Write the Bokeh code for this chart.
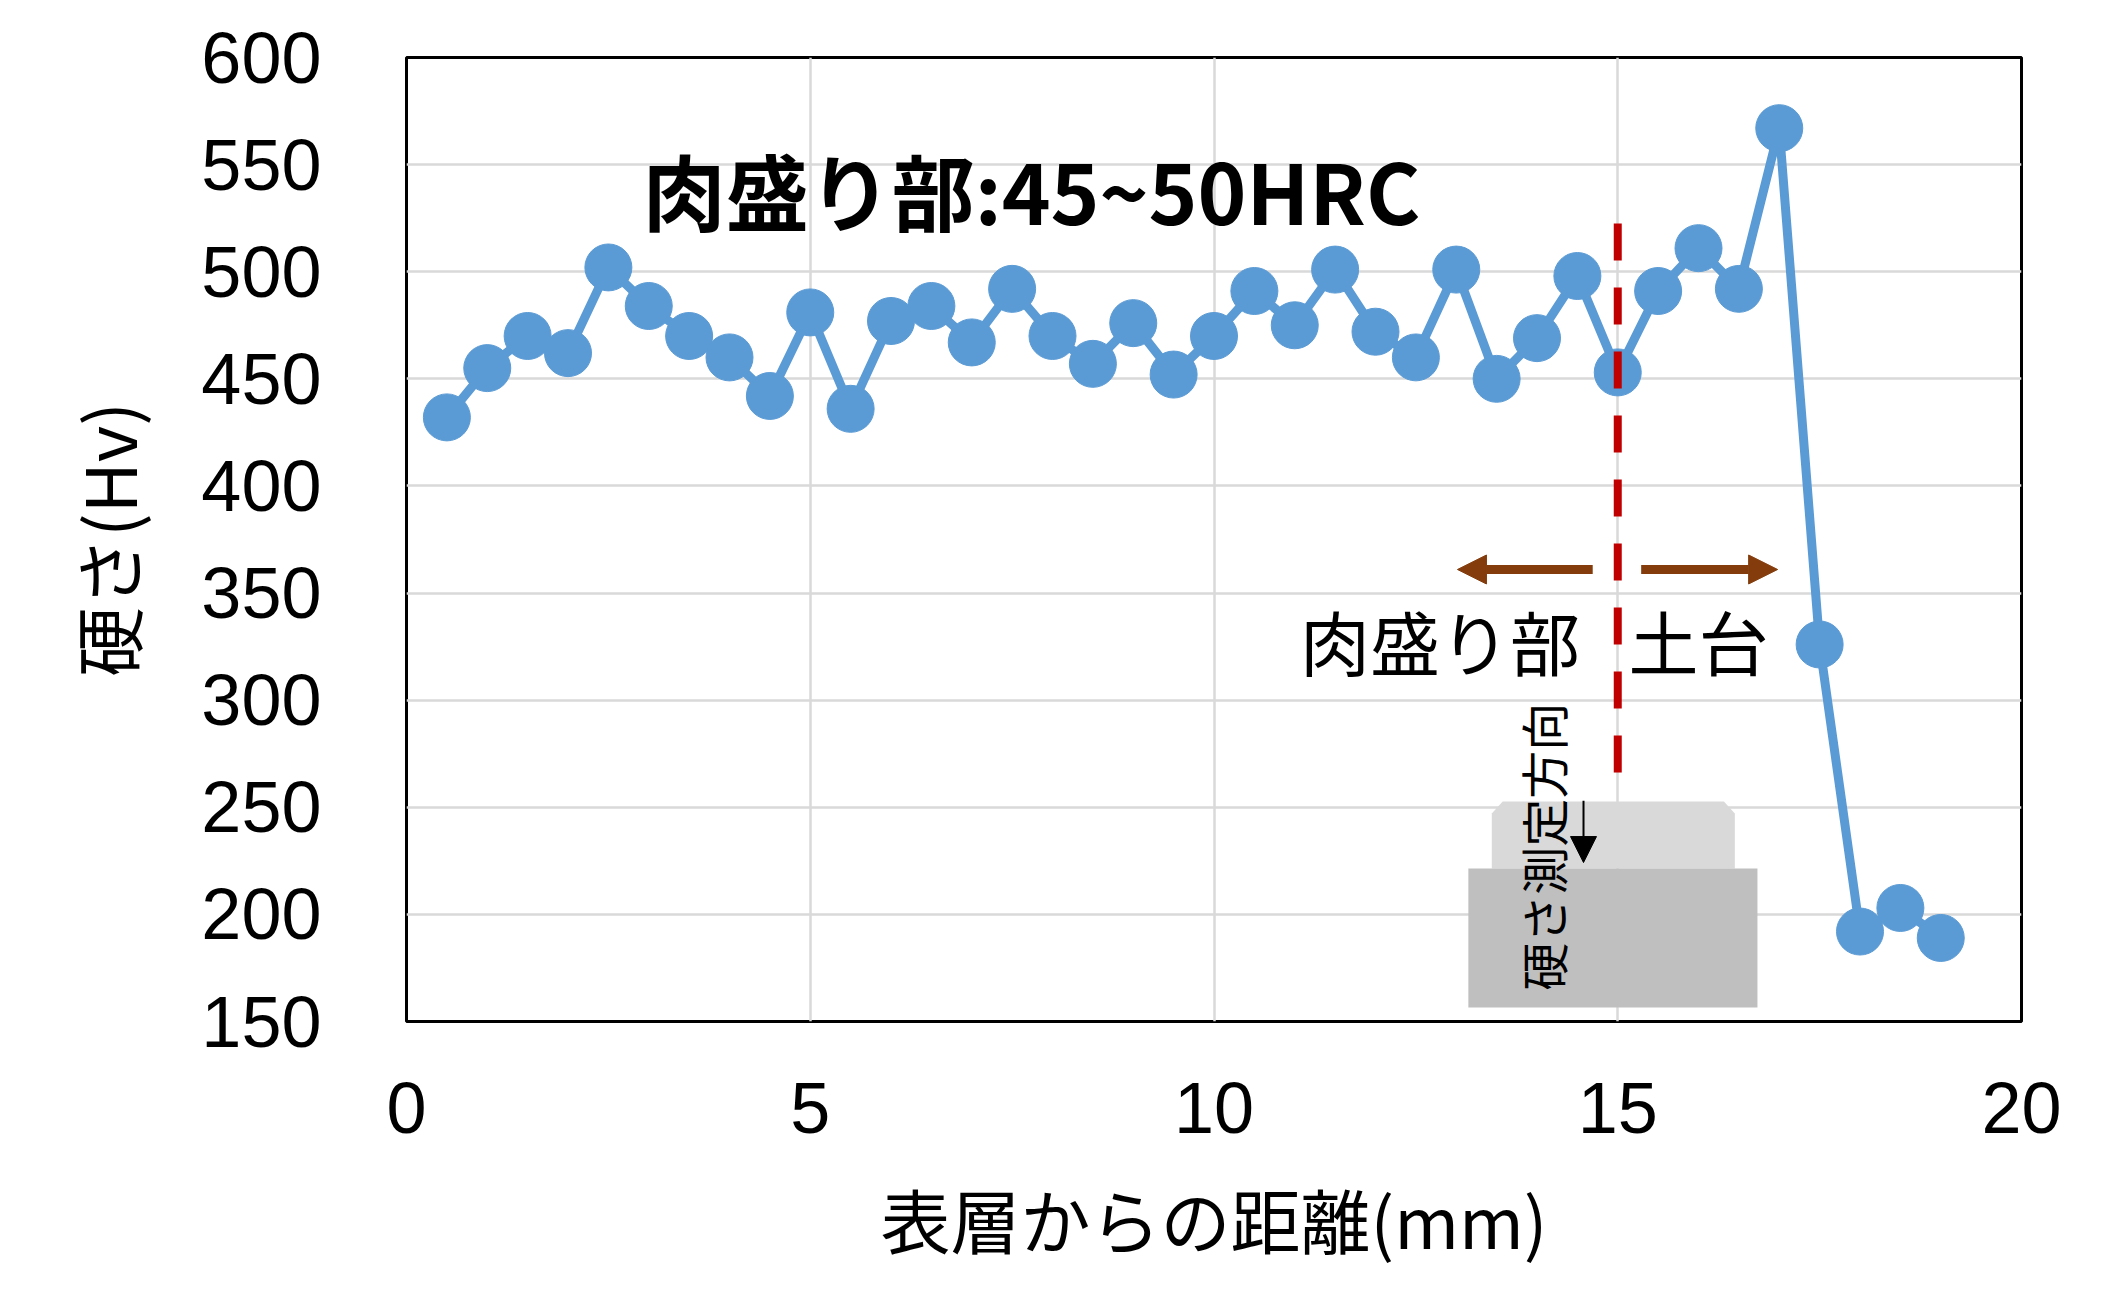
import math
from bokeh.plotting import figure
from bokeh.models import Range1d, FixedTicker, Arrow, NormalHead, Label
from bokeh.embed import file_html
from bokeh.resources import INLINE

# ---- data ----
distance_mm = [0.5, 1.0, 1.5, 2.0, 2.5, 3.0, 3.5, 4.0, 4.5, 5.0,
               5.5, 6.0, 6.5, 7.0, 7.5, 8.0, 8.5, 9.0, 9.5, 10.0,
               10.5, 11.0, 11.5, 12.0, 12.5, 13.0, 13.5, 14.0, 14.5, 15.0,
               15.5, 16.0, 16.5, 17.0, 17.5, 18.0, 18.5, 19.0]
hardness_hv = [432, 455, 470, 462, 502, 484, 470, 460, 442, 481,
               436, 477, 484, 467, 492, 470, 457, 476, 452, 470,
               491, 475, 501, 472, 460, 501, 450, 469, 498, 453,
               491, 511, 492, 567, 326, 192, 203, 189]
x_ticks = [0, 5, 10, 15, 20]
y_ticks = [150, 200, 250, 300, 350, 400, 450, 500, 550, 600]

title_text = "肉盛り部:45~50HRC"
x_label = "表層からの距離(mm)"
y_label = "硬さ(Hv)"
left_text = "肉盛り部"
right_text = "土台"
dir_text = "硬さ測定方向"

# boundary between overlay and base (mm)
boundary_x = 15
boundary_y = [522.5, 265.7]
arrow_y = 361
arrow_left = [14.69, 13.015]
arrow_right = [15.29, 16.98]

# schematic of the specimen (data units)
top_block_x = [13.44, 13.44, 13.575, 16.315, 16.45, 16.45]
top_block_y = [221.4, 247.1, 252.7, 252.7, 247.1, 221.4]
base_block = dict(left=13.15, right=16.73, bottom=156.5, top=221.4)
down_arrow_x = 14.576
down_arrow_y = [253.1, 224.2]

BLUE = "#5B9BD5"
BROWN = "#843C0C"
RED = "#C00000"

p = figure(width=2113, height=1298, output_backend="svg", toolbar_location=None,
           x_range=Range1d(0, 20), y_range=Range1d(150, 600), title=None,
           min_border_left=406, min_border_right=92, min_border_top=57,
           min_border_bottom=277)
p.background_fill_color = "white"
p.border_fill_color = "white"
p.outline_line_color = "black"
p.outline_line_width = 3
p.outline_line_alpha = 1.0

p.xaxis.ticker = FixedTicker(ticks=x_ticks)
p.yaxis.ticker = FixedTicker(ticks=y_ticks)
p.xgrid.ticker = FixedTicker(ticks=x_ticks)
p.ygrid.ticker = FixedTicker(ticks=y_ticks)
for g in (p.xgrid[0], p.ygrid[0]):
    g.grid_line_color = "#D9D9D9"
    g.grid_line_width = 2.5

for ax in (p.xaxis[0], p.yaxis[0]):
    ax.axis_line_color = None
    ax.major_tick_line_color = None
    ax.minor_tick_line_color = None
    ax.major_tick_in = 0
    ax.major_tick_out = 0
    ax.major_label_text_font = "Liberation Sans"
    ax.major_label_text_font_size = "72px"
    ax.major_label_text_color = "black"
    ax.axis_label_text_font = "Noto Sans CJK JP"
    ax.axis_label_text_font_size = "70px"
    ax.axis_label_text_font_style = "normal"
    ax.axis_label_text_color = "black"

p.xaxis.axis_label = x_label
p.yaxis.axis_label = y_label
p.xaxis.major_label_standoff = 61
p.yaxis.major_label_standoff = 85
p.xaxis.axis_label_standoff = 32
p.yaxis.axis_label_standoff = 41

# specimen schematic
p.patch(top_block_x, top_block_y, fill_color="#D9D9D9", line_color=None)
p.quad(color="#BFBFBF", line_color=None, **base_block)

# data series
p.line(distance_mm, hardness_hv, line_color=BLUE, line_width=9)
p.scatter(distance_mm, hardness_hv, size=47, fill_color=BLUE, line_color=BLUE)

# boundary line
p.segment(x0=boundary_x, y0=boundary_y[0], x1=boundary_x, y1=boundary_y[1],
          line_color=RED, line_width=8, line_dash="37 27", line_cap="butt")

# arrows
for xs in (arrow_left, arrow_right):
    p.add_layout(Arrow(end=NormalHead(size=29, fill_color=BROWN, line_color=BROWN),
                       x_start=xs[0], y_start=arrow_y, x_end=xs[1], y_end=arrow_y,
                       line_color=BROWN, line_width=9))
p.add_layout(Arrow(end=NormalHead(size=26, fill_color="black", line_color="black"),
                   x_start=down_arrow_x, y_start=down_arrow_y[0],
                   x_end=down_arrow_x, y_end=down_arrow_y[1],
                   line_color="black", line_width=2))

# texts
p.add_layout(Label(x=7.74, y=538.5, text=title_text, text_font="Noto Sans CJK JP",
                   text_font_style="bold", text_font_size="83px", text_align="center",
                   text_baseline="middle", text_color="black"))
p.add_layout(Label(x=12.80, y=327.8, text=left_text, text_font="Noto Sans CJK JP",
                   text_font_size="70px", text_align="center", text_baseline="middle",
                   text_color="black"))
p.add_layout(Label(x=16.0, y=327.8, text=right_text, text_font="Noto Sans CJK JP",
                   text_font_size="70px", text_align="center", text_baseline="middle",
                   text_color="black"))
p.add_layout(Label(x=14.056, y=231.6, text=dir_text, text_font="Noto Sans CJK JP",
                   text_font_size="48px", text_align="center", text_baseline="middle",
                   angle=math.pi / 2, text_color="black"))

open("out.html", "w").write(file_html(p, INLINE))
